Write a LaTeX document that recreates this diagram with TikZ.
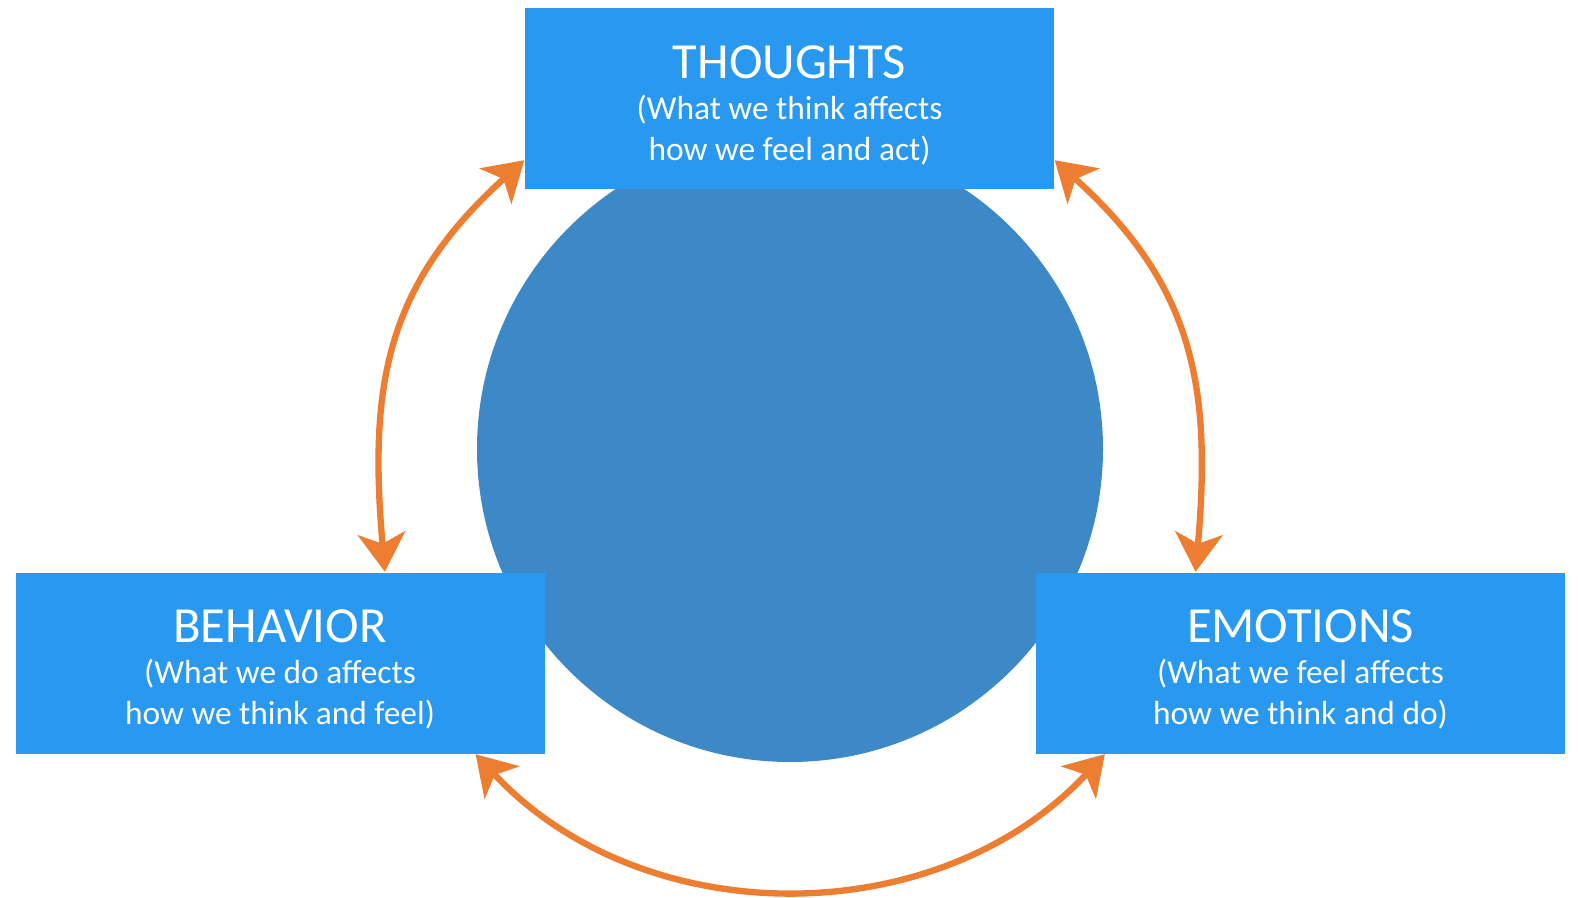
\documentclass[tikz,border=0pt]{standalone}
\usepackage{fontspec}
\setmainfont{Carlito}
\usepackage{xcolor}
\usepackage{tikz}
\usetikzlibrary{arrows.meta}
\definecolor{boxc}{HTML}{2898F0}
\definecolor{circc}{HTML}{3D89C8}
\definecolor{loopc}{HTML}{ED7D31}

% heading line of a box; the strut drops the text block a little
\newcommand{\boxtitle}[1]{{\fontsize{14.4}{17}\selectfont\rule{0pt}{13pt}#1}}

\tikzset{
  box/.style={rectangle, fill=boxc, text=white, minimum width=5.29cm, minimum height=1.81cm,
    inner sep=0pt, align=center, font=\fontsize{9.5}{11.6}\selectfont},
  cycletip/.tip={Stealth[length=11pt,width=13.5pt,inset=3pt]},
  loop/.style={draw=loopc, line width=1.8pt, cycletip-cycletip},
}

\begin{document}
\begin{tikzpicture}
  \useasboundingbox (0,0) rectangle (15.78,8.97);
  \node[circle, fill=circc, minimum size=6.26cm, inner sep=0pt] (core) at (7.90,4.48) {};

  \node[box] (thoughts) at (7.895,7.98) {\boxtitle{THOUGHTS}\\(What we think affects\\how we feel and act)};
  \node[box] (behavior) at (2.80,2.34) {\boxtitle{BEHAVIOR}\\(What we do affects\\how we think and feel)};
  \node[box] (emotions) at (13.005,2.34) {\boxtitle{EMOTIONS}\\(What we feel affects\\how we think and do)};

  % orange loop between the three boxes
  \draw[loop] (thoughts.193) to[out=222, in=95, looseness=1.1] (behavior.41);
  \draw[loop] (thoughts.347) to[out=-42, in=85, looseness=1.1] (emotions.139);
  \draw[loop] (behavior.335) to[out=-47, in=-133] (emotions.205);
\end{tikzpicture}
\end{document}
